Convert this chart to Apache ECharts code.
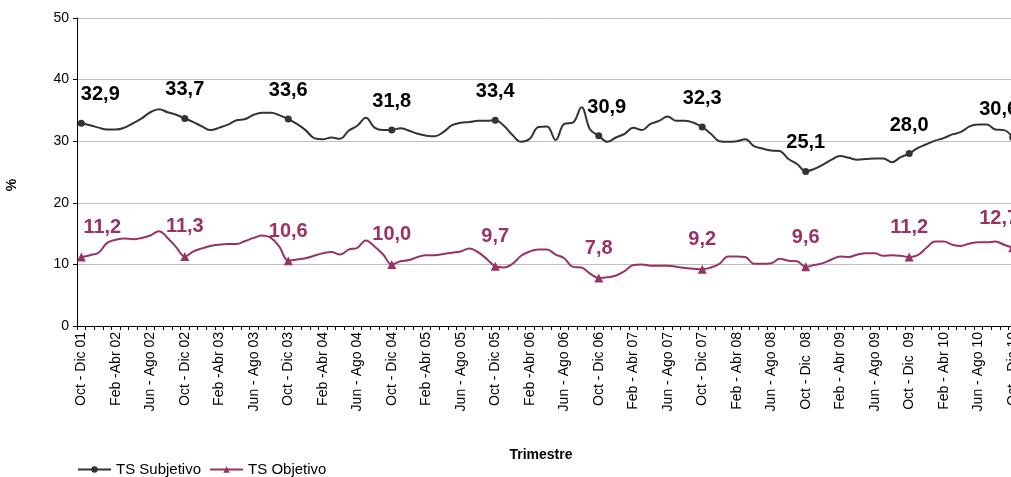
<!DOCTYPE html>
<html>
<head>
<meta charset="utf-8">
<script src="https://cdn.jsdelivr.net/npm/echarts@6/dist/echarts.min.js"></script>
<style>
html,body{margin:0;padding:0;background:#fff;}
#chart{width:1011px;height:477px;}
</style>
</head>
<body>
<div id="chart"></div>
<script>
// Visible tick labels (every 4th category)
const tickLabels = [
  'Oct - Dic 01','Feb -Abr 02','Jun - Ago 02','Oct - Dic 02','Feb -Abr 03','Jun - Ago 03',
  'Oct - Dic 03','Feb -Abr 04','Jun - Ago 04','Oct - Dic 04','Feb -Abr 05','Jun - Ago 05',
  'Oct - Dic 05','Feb -Abr 06','Jun - Ago 06','Oct - Dic 06','Feb - Abr 07','Jun - Ago 07',
  'Oct - Dic 07','Feb - Abr 08','Jun - Ago 08','Oct - Dic  08','Feb - Abr 09','Jun - Ago 09',
  'Oct - Dic  09','Feb - Abr 10','Jun - Ago 10','Oct - Dic 10'
];
const monthNames = ['Ene','Feb','Mar','Abr','May','Jun','Jul','Ago','Sep','Oct','Nov','Dic'];

const tsSubjetivo = [
  32.9,32.6,32.2,31.9,31.9,32.2,32.9,33.7,34.7,35.2,34.7,34.3,
  33.7,33.1,32.4,31.8,32.2,32.7,33.4,33.6,34.3,34.6,34.6,34.2,
  33.6,32.8,31.8,30.5,30.3,30.6,30.4,31.7,32.5,33.8,32.2,31.8,
  31.8,32.1,31.7,31.2,30.9,30.8,31.5,32.6,33.0,33.1,33.3,33.3,
  33.4,32.5,31.0,29.9,30.4,32.3,32.4,30.2,32.8,33.0,35.5,31.9,
  30.9,29.9,30.6,31.2,32.2,31.8,32.8,33.3,34.0,33.3,33.3,33.0,
  32.3,31.2,30.0,29.9,30.0,30.3,29.2,28.8,28.5,28.4,27.1,26.3,
  25.1,25.5,26.2,27.0,27.6,27.3,27.0,27.1,27.2,27.2,26.6,27.4,
  28.0,28.9,29.5,30.1,30.5,31.1,31.5,32.4,32.7,32.7,31.9,31.8,
  30.6
];
const tsObjetivo = [
  11.2,11.5,11.9,13.5,14.0,14.2,14.1,14.3,14.7,15.4,14.3,12.8,
  11.3,12.1,12.6,13.0,13.2,13.3,13.3,13.8,14.3,14.7,14.3,12.8,
  10.6,10.8,11.0,11.4,11.8,12.0,11.6,12.4,12.7,13.9,12.9,11.6,
  10.0,10.5,10.7,11.2,11.5,11.5,11.7,11.9,12.1,12.6,12.0,10.9,
  9.7,9.5,10.1,11.4,12.1,12.4,12.4,11.6,11.0,9.6,9.5,8.5,
  7.8,7.9,8.2,8.9,9.9,10.0,9.8,9.8,9.8,9.6,9.4,9.3,
  9.2,9.5,10.1,11.3,11.3,11.2,10.1,10.1,10.2,10.9,10.6,10.5,
  9.6,9.9,10.2,10.8,11.3,11.2,11.6,11.8,11.8,11.4,11.5,11.4,
  11.2,11.5,12.7,13.7,13.7,13.2,13.0,13.4,13.6,13.6,13.7,13.2,
  12.7
];

// Build category names (rolling trimesters starting Oct - Dic 01)
const categories = [];
for (let i = 0; i < tsSubjetivo.length; i++) {
  if (i % 4 === 0 && tickLabels[i / 4]) { categories.push(tickLabels[i / 4]); continue; }
  const s = (9 + i) % 12;
  const e = (s + 2) % 12;
  const yr = 2001 + Math.floor((9 + i + 2) / 12);
  categories.push(monthNames[s] + ' - ' + monthNames[e] + ' ' + String(yr % 100).padStart(2, '0'));
}

const fmt = v => v.toFixed(1).replace('.', ',');
const labelOffsetsSub = {0: [19, 0], 60: [8, 0], 108: [-14, 0]};
const labelOffsetsObj = {0: [21, 0], 108: [-14, 0]};

function buildData(arr, offsets) {
  return arr.map((v, i) => {
    if (i % 12 === 0) {
      return { value: v, label: { show: true, offset: offsets[i] || [0, 0] } };
    }
    return { value: v, symbolSize: 0, label: { show: false } };
  });
}

const chart = echarts.init(document.getElementById('chart'), null, { renderer: 'canvas' });
const option = {
  animation: false,
  backgroundColor: '#ffffff',
  textStyle: { fontFamily: 'Liberation Sans, Arial, sans-serif' },
  grid: { left: 77, top: 18, width: 940, bottom: 151, containLabel: false, outerBoundsMode: 'none' },
  legend: {
    left: 72, top: 457,
    itemWidth: 33, itemHeight: 8, itemGap: 8,
    textStyle: { fontSize: 15, color: '#000', fontFamily: 'Liberation Sans, Arial, sans-serif' },
    data: ['TS Subjetivo', 'TS Objetivo']
  },
  xAxis: {
    type: 'category',
    data: categories,
    boundaryGap: true,
    name: 'Trimestre',
    nameLocation: 'middle',
    nameGap: 122,
    nameTextStyle: { fontSize: 14, fontWeight: 'bold', color: '#000', padding: [0, 12, 0, 0] },
    axisLine: { lineStyle: { color: '#000', width: 1 } },
    axisTick: { show: true, interval: 0, length: 4, lineStyle: { color: '#000' } },
    axisLabel: { interval: 3, rotate: 90, fontSize: 14, color: '#000', margin: 6 },
    splitLine: { show: false }
  },
  yAxis: {
    type: 'value',
    min: 0, max: 50, interval: 10,
    name: '%',
    nameLocation: 'middle',
    nameGap: 58,
    nameRotate: 90,
    nameTextStyle: { fontSize: 14, fontWeight: 'bold', color: '#000', padding: [0, 26, 0, 0] },
    axisLine: { show: true, lineStyle: { color: '#000', width: 1 } },
    axisTick: { show: true, length: 4, lineStyle: { color: '#000' } },
    axisLabel: { fontSize: 14, color: '#000', margin: 8 },
    splitLine: { show: true, lineStyle: { color: '#c0c0c0', width: 1 } }
  },
  series: [
    {
      name: 'TS Subjetivo',
      type: 'line',
      smooth: 0.4,
      data: buildData(tsSubjetivo, labelOffsetsSub),
      symbol: 'circle',
      symbolSize: 7,
      showAllSymbol: true,
      lineStyle: { color: '#333333', width: 2 },
      itemStyle: { color: '#333333' },
      label: {
        position: 'top', distance: 15,
        fontSize: 20, fontWeight: 'bold', color: '#000',
        formatter: p => fmt(p.value)
      },
      z: 3
    },
    {
      name: 'TS Objetivo',
      type: 'line',
      smooth: 0.4,
      data: buildData(tsObjetivo, labelOffsetsObj),
      symbol: 'triangle',
      symbolSize: 9,
      showAllSymbol: true,
      lineStyle: { color: '#993366', width: 2 },
      itemStyle: { color: '#993366' },
      label: {
        position: 'top', distance: 15,
        fontSize: 20, fontWeight: 'bold', color: '#993366',
        formatter: p => fmt(p.value)
      },
      z: 2
    }
  ]
};
chart.setOption(option);
</script>
</body>
</html>
